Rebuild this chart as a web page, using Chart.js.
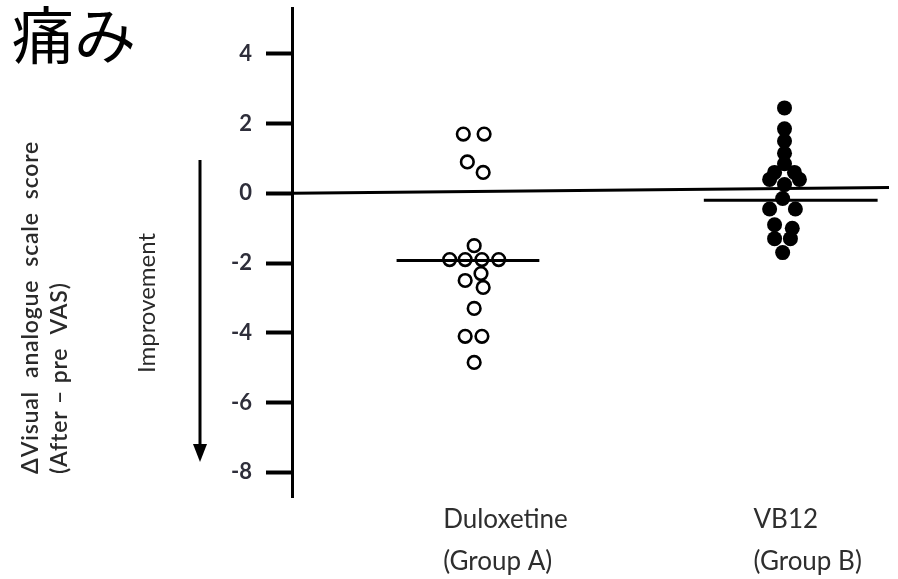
<!DOCTYPE html>
<html lang="ja">
<head>
  <meta charset="UTF-8" />
  <title>痛み - VAS</title>
  <script src="https://cdn.jsdelivr.net/npm/chart.js"></script>
  <style>
    html, body { margin: 0; padding: 0; background: #fff; }
    #wrap { width: 898px; height: 579px; position: relative; }
  </style>
</head>
<body>
  <div id="wrap"><canvas id="vasChart" width="898" height="579"></canvas></div>

  <script>
    // groups along the x axis
    const groupNames = [['Duloxetine', '(Group A)'], ['VB12', '(Group B)']];
    const groupPos = [1, 2];

    // y axis ticks
    const yTicks = [4, 2, 0, -2, -4, -6, -8];

    // Duloxetine (Group A): change in VAS, with horizontal jitter
    const dulX = [0.965, 1.032, 0.978, 1.029, 1.0, 0.921, 0.971, 1.025, 1.079, 0.971, 1.022, 1.029, 1.0, 0.971, 1.025, 1.0];
    const dulY = [1.7, 1.7, 0.9, 0.6, -1.5, -1.9, -1.9, -1.9, -1.9, -2.5, -2.3, -2.7, -3.3, -4.1, -4.1, -4.85];

    // VB12 (Group B)
    const vbX = [2.0, 2.0, 2.0, 2.0, 2.0, 1.968, 2.032, 1.952, 2.048, 2.0, 1.994, 1.952, 2.035, 1.968, 2.025, 1.968, 2.019, 1.994];
    const vbY = [2.45, 1.85, 1.5, 1.15, 0.85, 0.6, 0.6, 0.4, 0.4, 0.25, -0.15, -0.45, -0.45, -0.9, -1.0, -1.3, -1.3, -1.7];

    // median bars
    const medA = { from: 0.75, to: 1.21, value: -1.93 };
    const medB = { from: 1.74, to: 2.3, value: -0.2 };

    // reference line at zero (drawn slightly slanted)
    const zeroX = [0.413, 2.337];
    const zeroY = [0, 0.17];

    const toPts = (xs, ys) => xs.map((x, i) => ({ x: x, y: ys[i] }));

    const labelFont = '"Lato", "Liberation Sans", sans-serif';

    // texts outside the plot: title, y titles, arrow, group names
    const sideText = {
      id: 'sideText',
      afterDraw(chart) {
        const ctx = chart.ctx;
        const xs = chart.scales.x;
        ctx.save();

        ctx.fillStyle = '#000';
        ctx.font = '62px "Noto Sans CJK JP"';
        ctx.textAlign = 'left';
        ctx.textBaseline = 'alphabetic';
        ctx.fillText('痛み', 12, 59);

        ctx.fillStyle = '#2a2a2a';
        ctx.textBaseline = 'middle';
        const rot = (txt, x, y, align) => {
          ctx.save();
          ctx.translate(x, y);
          ctx.rotate(-Math.PI / 2);
          ctx.textAlign = align;
          ctx.fillText(txt, 0, 0);
          ctx.restore();
        };
        ctx.font = '600 23px ' + labelFont;
        ctx.letterSpacing = '0.8px';
        rot('\u0394Visual  analogue  scale  score', 31, 474, 'left');
        rot('(After \u2013 pre  VAS)', 60, 474, 'left');
        ctx.letterSpacing = '0px';
        ctx.font = '24px ' + labelFont;
        rot('Improvement', 147, 303, 'center');

        // downward arrow
        ctx.strokeStyle = '#000';
        ctx.fillStyle = '#000';
        ctx.lineWidth = 3;
        ctx.beginPath();
        ctx.moveTo(200, 160);
        ctx.lineTo(200, 448);
        ctx.stroke();
        ctx.beginPath();
        ctx.moveTo(193, 444);
        ctx.lineTo(207, 444);
        ctx.lineTo(200, 462);
        ctx.closePath();
        ctx.fill();

        // group names under the plot
        ctx.fillStyle = '#2e2e2e';
        ctx.font = '26px ' + labelFont;
        ctx.textAlign = 'left';
        ctx.textBaseline = 'alphabetic';
        groupNames.forEach((lines, i) => {
          const px = xs.getPixelForValue(groupPos[i]) - 31;
          ctx.fillText(lines[0], px, 528);
          ctx.fillText(lines[1], px, 570);
        });
        ctx.restore();
      }
    };

    new Chart(document.getElementById('vasChart'), {
      type: 'scatter',
      data: {
        datasets: [
          {
            type: 'line',
            data: toPts(zeroX, zeroY),
            borderColor: '#000',
            borderWidth: 3,
            pointRadius: 0,
            order: 3
          },
          {
            type: 'line',
            data: [{ x: medA.from, y: medA.value }, { x: medA.to, y: medA.value }],
            borderColor: '#000',
            borderWidth: 3,
            pointRadius: 0,
            order: 2
          },
          {
            type: 'line',
            data: [{ x: medB.from, y: medB.value }, { x: medB.to, y: medB.value }],
            borderColor: '#000',
            borderWidth: 3,
            pointRadius: 0,
            order: 2
          },
          {
            label: 'Duloxetine',
            data: toPts(dulX, dulY),
            pointRadius: 6.3,
            borderWidth: 2.6,
            borderColor: '#000',
            backgroundColor: 'rgba(0,0,0,0)',
            order: 1
          },
          {
            label: 'VB12',
            data: toPts(vbX, vbY),
            pointRadius: 7.5,
            borderWidth: 0,
            backgroundColor: '#000',
            order: 1
          }
        ]
      },
      options: {
        responsive: false,
        animation: false,
        layout: { padding: { left: 0, right: 0, top: 7, bottom: 82 } },
        plugins: {
          legend: { display: false },
          tooltip: { enabled: false }
        },
        scales: {
          x: {
            type: 'linear',
            min: 0.413,
            max: 2.337,
            display: false
          },
          y: {
            min: -8.71,
            max: 5.29,
            afterBuildTicks: (scale) => {
              scale.ticks = yTicks.map(v => ({ value: v }));
            },
            afterFit: (scale) => {
              scale.width = 292;
              scale.paddingTop = 0;
              scale.paddingBottom = 0;
            },
            border: { display: true, color: '#000', width: 3 },
            grid: {
              drawOnChartArea: false,
              drawTicks: true,
              tickLength: 26,
              tickWidth: 4,
              tickColor: '#000'
            },
            ticks: {
              padding: 14,
              color: '#2e2e3a',
              font: { family: 'Lato', size: 22, weight: 'bold' }
            }
          }
        }
      },
      plugins: [sideText]
    });
  </script>
</body>
</html>
